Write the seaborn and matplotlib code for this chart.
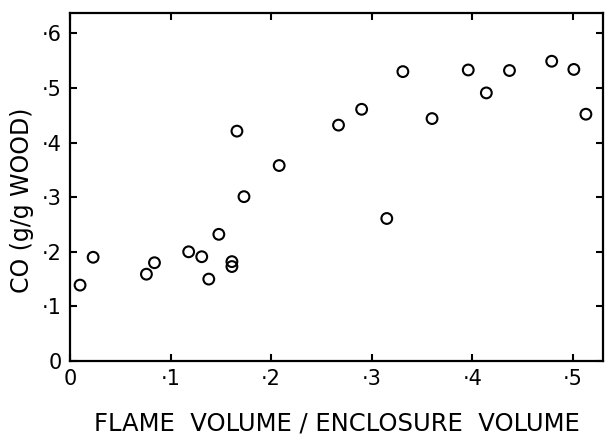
import matplotlib
matplotlib.use("Agg")
import matplotlib.pyplot as plt
import seaborn as sns
import pandas as pd
from matplotlib.ticker import FixedLocator, FuncFormatter

flame_ratio = [0.010, 0.023, 0.076, 0.084, 0.118, 0.131, 0.138, 0.148, 0.161, 0.161,
               0.166, 0.173, 0.208, 0.267, 0.290, 0.315, 0.331, 0.360, 0.396, 0.414,
               0.437, 0.479, 0.501, 0.513]
co_yield = [0.139, 0.190, 0.159, 0.180, 0.200, 0.191, 0.150, 0.232, 0.182, 0.173,
            0.421, 0.301, 0.358, 0.432, 0.461, 0.261, 0.530, 0.444, 0.533, 0.491,
            0.532, 0.549, 0.534, 0.452]
x_ticks = [0, 0.1, 0.2, 0.3, 0.4, 0.5]
y_ticks = [0, 0.1, 0.2, 0.3, 0.4, 0.5, 0.6]

df = pd.DataFrame({"x": flame_ratio, "y": co_yield})

sns.set_style("ticks")
plt.rcParams['font.family'] = ['DejaVu Sans']

fig = plt.figure(figsize=(6.05, 4.36), dpi=100)
ax = fig.add_axes([0.1157, 0.172, 0.881, 0.799])

sns.scatterplot(data=df, x="x", y="y", ax=ax, marker="o", s=60,
                facecolor="none", edgecolor="black", linewidth=1.5)

ax.set_xlim(0, 0.53)
ax.set_ylim(0, 0.638)

def fmt(v, pos):
    if abs(v) < 1e-9:
        return "0"
    return "\u00b7" + str(int(round(v * 10)))

ax.xaxis.set_major_locator(FixedLocator(x_ticks))
ax.yaxis.set_major_locator(FixedLocator(y_ticks))
ax.xaxis.set_major_formatter(FuncFormatter(fmt))
ax.yaxis.set_major_formatter(FuncFormatter(fmt))

ax.tick_params(direction="in", length=5, width=1.5, top=True, right=True,
               labelsize=15, colors="black", pad=6)
for s in ax.spines.values():
    s.set_visible(True)
    s.set_linewidth(1.6)
    s.set_color("black")

ax.set_xlabel("FLAME  VOLUME / ENCLOSURE  VOLUME", fontsize=17.5, color="black")
ax.set_ylabel("CO (g/g WOOD)", fontsize=17, color="black")
ax.xaxis.set_label_coords(0.5, -0.145)
ax.yaxis.set_label_coords(-0.068, 0.46)

fig.savefig("out.png", dpi=100)
